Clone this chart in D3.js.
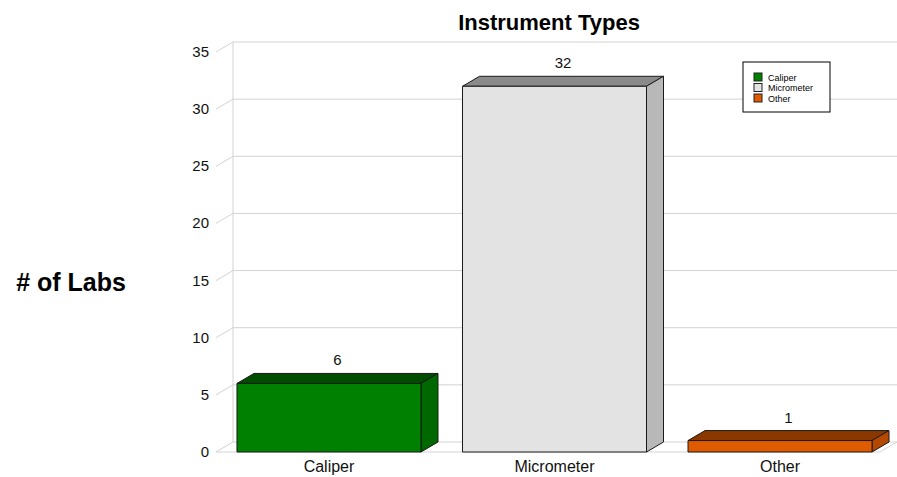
<!DOCTYPE html>
<html>
<head>
<meta charset="utf-8">
<script src="https://cdn.jsdelivr.net/npm/d3@7"></script>
<style>
  body { margin: 0; background: #fff; }
  text { font-family: "Liberation Sans", Arial, sans-serif; }
</style>
</head>
<body>
<svg id="chart" width="897" height="477"></svg>
<script>
// data
var categories = ["Caliper", "Micrometer", "Other"];
var counts = [6, 32, 1];
var yTicks = [0, 5, 10, 15, 20, 25, 30, 35];
// front / top / side colours per category
var frontColors = ["#008000", "#e3e3e3", "#e05a00"];
var topColors = ["#004d00", "#8a8a8a", "#8b3800"];
var sideColors = ["#006800", "#b8b8b8", "#b54800"];

var svg = d3.select("#chart"),
    dx = 17, dy = 10; // 3d depth offset

var x = d3.scaleBand()
    .domain(categories)
    .range([216, 893])
    .paddingInner(0.184)
    .paddingOuter(0.093);

var y = d3.scaleLinear()
    .domain([0, 35])
    .range([452, 52]);

var grid = svg.append("g").attr("stroke", "#d3d3d3").attr("fill", "none");

// back wall lines + slant to the front axis
yTicks.forEach(function (t) {
    grid.append("line")
        .attr("x1", 216 + dx).attr("x2", 897)
        .attr("y1", y(t) - dy).attr("y2", y(t) - dy);
    grid.append("line")
        .attr("x1", 216).attr("x2", 216 + dx)
        .attr("y1", y(t)).attr("y2", y(t) - dy);
});
// back vertical
grid.append("line")
    .attr("x1", 216 + dx).attr("x2", 216 + dx)
    .attr("y1", y(35) - dy).attr("y2", y(0) - dy);
// floor front edge
grid.append("line")
    .attr("x1", 216).attr("x2", 880)
    .attr("y1", y(0)).attr("y2", y(0));
grid.append("line")
    .attr("x1", 880).attr("x2", 880 + dx)
    .attr("y1", y(0)).attr("y2", y(0) - dy);

// tick labels
svg.append("g").selectAll("text")
    .data(yTicks)
    .join("text")
    .attr("x", 209)
    .attr("y", function (d) { return y(d) + 5; })
    .attr("text-anchor", "end")
    .attr("font-size", 15)
    .attr("fill", "#111")
    .text(function (d) { return d; });

// bars
var bars = svg.append("g").selectAll("g")
    .data(categories)
    .join("g");

bars.each(function (c, i) {
    var g = d3.select(this),
        x0 = x(c), x1 = x(c) + x.bandwidth(),
        yt = y(counts[i]), yb = y(0);

    // top face
    g.append("path")
        .attr("d", d3.line()([[x0, yt], [x0 + dx, yt - dy], [x1 + dx, yt - dy], [x1, yt]]) + "Z")
        .attr("fill", topColors[i]);
    // side face
    g.append("path")
        .attr("d", d3.line()([[x1, yt], [x1 + dx, yt - dy], [x1 + dx, yb - dy], [x1, yb]]) + "Z")
        .attr("fill", sideColors[i]);
    // front face
    g.append("rect")
        .attr("x", x0).attr("y", yt)
        .attr("width", x.bandwidth()).attr("height", yb - yt)
        .attr("fill", frontColors[i]);
    g.selectAll("path, rect")
        .attr("stroke", "#1a1a1a")
        .attr("stroke-width", 1)
        .attr("stroke-linejoin", "round");

    // value label
    g.append("text")
        .attr("x", x0 + x.bandwidth() / 2 + dx / 2)
        .attr("y", yt - dy - 8)
        .attr("text-anchor", "middle")
        .attr("font-size", 15)
        .attr("fill", "#111")
        .text(counts[i]);
});

// category labels
svg.append("g").selectAll("text")
    .data(categories)
    .join("text")
    .attr("x", function (d) { return x(d) + x.bandwidth() / 2; })
    .attr("y", 472)
    .attr("text-anchor", "middle")
    .attr("font-size", 16)
    .attr("fill", "#111")
    .text(function (d) { return d; });

// title and y label
svg.append("text")
    .attr("x", 549).attr("y", 30)
    .attr("text-anchor", "middle")
    .attr("font-size", 22)
    .attr("font-weight", "bold")
    .text("Instrument Types");

svg.append("text")
    .attr("x", 71).attr("y", 291)
    .attr("text-anchor", "middle")
    .attr("font-size", 25)
    .attr("font-weight", "bold")
    .text("# of Labs");

// legend
var legend = svg.append("g").attr("transform", "translate(743,62)");
legend.append("rect")
    .attr("width", 87).attr("height", 50)
    .attr("fill", "#fff").attr("stroke", "#000");
var items = legend.selectAll("g.item")
    .data(categories)
    .join("g")
    .attr("class", "item")
    .attr("transform", function (d, i) { return "translate(11," + (11 + i * 10.5) + ")"; });
items.append("rect")
    .attr("width", 8).attr("height", 8)
    .attr("fill", function (d, i) { return frontColors[i]; })
    .attr("stroke", "#222");
items.append("text")
    .attr("x", 14).attr("y", 7.5)
    .attr("font-size", 9)
    .text(function (d) { return d; });
</script>
</body>
</html>
